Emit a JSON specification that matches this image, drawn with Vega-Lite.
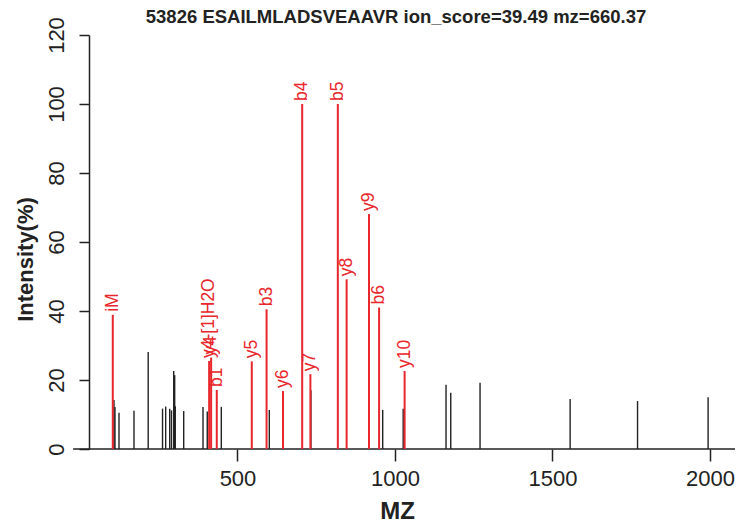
{
  "$schema": "https://vega.github.io/schema/vega-lite/v6.json",
  "width": 646,
  "height": 414,
  "autosize": {"type": "none"},
  "padding": {"left": 89, "top": 35, "right": 5, "bottom": 80},
  "title": {"text": "53826 ESAILMLADSVEAAVR ion_score=39.49 mz=660.37", "fontSize": 18.5, "fontWeight": "bold", "font": "Liberation Sans", "color": "#222222", "anchor": "middle", "dx": -16, "offset": -10},
  "config": {"view": {"stroke": null}, "font": "Liberation Sans"},
  "datasets": {
    "base": [{"mz": -22, "mz2": 2079.4, "y": 0}],
    "unmatched": [
      {"mz": 107.9, "intensity": 14.2}, {"mz": 111, "intensity": 12.2}, {"mz": 123.8, "intensity": 10.5},
      {"mz": 171.4, "intensity": 11.1}, {"mz": 216.5, "intensity": 28.1}, {"mz": 262, "intensity": 11.7},
      {"mz": 272, "intensity": 12.3}, {"mz": 284.8, "intensity": 11.7}, {"mz": 290.5, "intensity": 11.2},
      {"mz": 297.5, "intensity": 22.6}, {"mz": 300.6, "intensity": 21.4}, {"mz": 302.5, "intensity": 12.4},
      {"mz": 329.2, "intensity": 11.0}, {"mz": 390.5, "intensity": 12.2}, {"mz": 404, "intensity": 10.9},
      {"mz": 448.6, "intensity": 12.2}, {"mz": 601, "intensity": 11.3}, {"mz": 733, "intensity": 17},
      {"mz": 961, "intensity": 11.3}, {"mz": 1026, "intensity": 11.7}, {"mz": 1162, "intensity": 18.6},
      {"mz": 1177, "intensity": 16.3}, {"mz": 1270, "intensity": 19.2}, {"mz": 1556, "intensity": 14.5},
      {"mz": 1770, "intensity": 13.9}, {"mz": 1994, "intensity": 15.0}
    ],
    "matched": [
      {"mz": 104.05, "intensity": 38.9, "label": "iM"},
      {"mz": 410, "intensity": 25.5, "label": "y4-[1]H2O"},
      {"mz": 416.27, "intensity": 26.5, "label": "y4"},
      {"mz": 434.25, "intensity": 17.1, "label": "b1"},
      {"mz": 545.31, "intensity": 25.4, "label": "y5"},
      {"mz": 592.3, "intensity": 40.5, "label": "b3"},
      {"mz": 644.38, "intensity": 16.8, "label": "y6"},
      {"mz": 705.4, "intensity": 100, "label": "b4"},
      {"mz": 731.41, "intensity": 21.7, "label": "y7"},
      {"mz": 818.5, "intensity": 100, "label": "b5"},
      {"mz": 846.44, "intensity": 49.2, "label": "y8"},
      {"mz": 917.47, "intensity": 68.1, "label": "y9"},
      {"mz": 949.5, "intensity": 41.0, "label": "b6"},
      {"mz": 1030.56, "intensity": 22.6, "label": "y10"}
    ]
  },
  "layer": [
    {
      "data": {"name": "base"},
      "mark": {"type": "rule", "color": "#222222", "strokeWidth": 1.5},
      "encoding": {
        "x": {"field": "mz", "type": "quantitative", "scale": {"domain": [28.57, 2079.4], "nice": false, "zero": false},
          "axis": {"values": [500, 1000, 1500, 2000], "format": "d", "domain": false, "grid": false, "tickSize": 12, "tickColor": "#222222", "tickWidth": 1.5,
            "labelFontSize": 22, "labelColor": "#222222", "labelPadding": 7, "labelFont": "Liberation Sans",
            "title": "MZ", "titleFontSize": 24, "titleFontWeight": "bold", "titleColor": "#222222", "titleFont": "Liberation Sans",
            "titleX": 308, "titleY": 62, "titleAlign": "center", "titleBaseline": "middle"}},
        "x2": {"field": "mz2"},
        "y": {"field": "y", "type": "quantitative", "scale": {"domain": [0, 120], "nice": false},
          "axis": {"values": [0, 20, 40, 60, 80, 100, 120], "domain": true, "domainColor": "#222222", "domainWidth": 1.5, "grid": false,
            "tickSize": 10, "tickColor": "#222222", "tickWidth": 1.5,
            "labelAngle": -90, "labelAlign": "center", "labelBaseline": "bottom", "labelFontSize": 22, "labelColor": "#222222", "labelPadding": 11, "labelFont": "Liberation Sans",
            "title": "Intensity(%)", "titleFontSize": 22, "titleFontWeight": "bold", "titleColor": "#222222", "titleFont": "Liberation Sans",
            "titleX": -64, "titleY": 224, "titleAngle": -90, "titleAlign": "center", "titleBaseline": "middle"}}
      }
    },
    {
      "data": {"name": "unmatched"},
      "mark": {"type": "rule", "color": "#222222", "strokeWidth": 1.4},
      "encoding": {
        "x": {"field": "mz", "type": "quantitative"},
        "y": {"field": "intensity", "type": "quantitative"},
        "y2": {"datum": 0}
      }
    },
    {
      "data": {"name": "matched"},
      "mark": {"type": "rule", "color": "#e8262b", "strokeWidth": 2},
      "encoding": {
        "x": {"field": "mz", "type": "quantitative"},
        "y": {"field": "intensity", "type": "quantitative"},
        "y2": {"datum": 0}
      }
    },
    {
      "data": {"name": "matched"},
      "mark": {"type": "text", "color": "#e8262b", "angle": 270, "align": "left", "baseline": "middle", "dx": 3, "fontSize": 17.5, "font": "Liberation Sans"},
      "encoding": {
        "x": {"field": "mz", "type": "quantitative"},
        "y": {"field": "intensity", "type": "quantitative"},
        "text": {"field": "label"}
      }
    }
  ]
}
